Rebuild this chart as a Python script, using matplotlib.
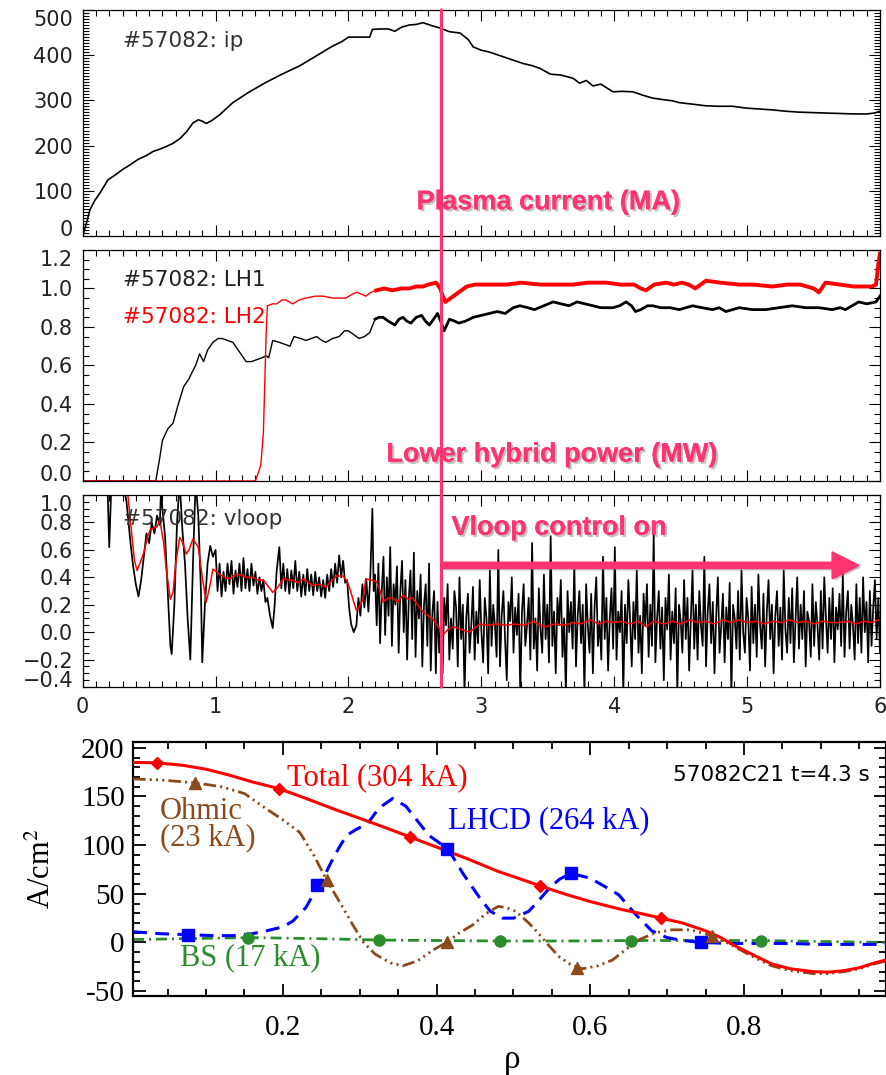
import numpy as np
import matplotlib
matplotlib.use("Agg")
import matplotlib.pyplot as plt
from matplotlib.ticker import MultipleLocator, FuncFormatter
from matplotlib.patches import ConnectionPatch
import matplotlib.patheffects as pe

# ---- shot #57082 time traces (t [s], value) ----
ip = [(0, 0), (0.03, 30), (0.055, 58), (0.09, 78), (0.13, 95), (0.19, 124), (0.25, 136), (0.3, 147),
      (0.36, 158), (0.42, 170), (0.48, 178), (0.53, 187), (0.58, 192), (0.63, 198), (0.68, 205),
      (0.73, 215), (0.78, 230), (0.83, 250), (0.87, 257), (0.9, 254), (0.93, 249), (0.97, 255),
      (1.03, 268), (1.13, 295), (1.25, 318), (1.38, 340), (1.5, 358), (1.63, 376), (1.75, 397),
      (1.88, 420), (1.95, 430), (2.0, 440), (2.08, 440), (2.16, 440), (2.18, 457), (2.24, 458),
      (2.3, 458), (2.35, 453), (2.4, 462), (2.46, 467), (2.51, 468), (2.56, 472), (2.62, 466),
      (2.69, 460), (2.76, 452), (2.84, 449), (2.9, 435), (2.94, 418), (3.0, 411), (3.06, 407),
      (3.12, 401), (3.19, 394), (3.25, 388), (3.31, 382), (3.38, 377), (3.44, 371), (3.52, 358),
      (3.6, 356), (3.69, 349), (3.74, 338), (3.79, 344), (3.84, 332), (3.9, 336), (3.99, 319),
      (4.06, 320), (4.14, 319), (4.22, 311), (4.29, 305), (4.36, 302), (4.44, 299), (4.49, 295),
      (4.58, 292), (4.69, 288), (4.79, 287), (4.89, 287), (4.99, 283), (5.09, 281), (5.19, 279),
      (5.29, 276), (5.39, 274), (5.49, 273), (5.59, 272), (5.7, 271), (5.8, 270), (5.9, 270),
      (5.96, 272), (6.0, 276)]

lh1 = [(0, 0), (0.55, 0), (0.58, 0.12), (0.6, 0.21), (0.64, 0.27), (0.68, 0.3), (0.72, 0.4),
       (0.76, 0.49), (0.8, 0.53), (0.82, 0.56), (0.85, 0.6), (0.88, 0.66), (0.91, 0.62), (0.94, 0.68),
       (0.98, 0.72), (1.02, 0.74), (1.05, 0.74), (1.09, 0.73), (1.13, 0.72), (1.18, 0.67), (1.23, 0.62),
       (1.27, 0.62), (1.31, 0.63), (1.35, 0.64), (1.38, 0.65), (1.4, 0.64), (1.43, 0.73), (1.48, 0.72),
       (1.52, 0.71), (1.56, 0.70), (1.59, 0.75), (1.64, 0.74), (1.68, 0.73), (1.72, 0.74), (1.76, 0.75),
       (1.8, 0.73), (1.83, 0.72), (1.88, 0.74), (1.93, 0.75), (1.97, 0.78), (2.0, 0.78), (2.04, 0.76),
       (2.08, 0.74), (2.12, 0.75), (2.16, 0.77), (2.2, 0.84), (2.23, 0.85), (2.26, 0.85), (2.3, 0.83),
       (2.35, 0.81), (2.38, 0.84), (2.41, 0.85), (2.44, 0.83), (2.47, 0.82), (2.51, 0.85), (2.55, 0.86),
       (2.58, 0.83), (2.61, 0.81), (2.64, 0.84), (2.67, 0.87), (2.7, 0.82), (2.72, 0.78), (2.76, 0.84),
       (2.8, 0.83), (2.83, 0.82), (2.88, 0.83), (2.94, 0.85), (3.0, 0.86), (3.06, 0.87), (3.12, 0.88),
       (3.18, 0.87), (3.24, 0.9), (3.29, 0.91), (3.35, 0.9), (3.4, 0.89), (3.47, 0.91), (3.54, 0.93),
       (3.6, 0.92), (3.66, 0.91), (3.72, 0.93), (3.78, 0.92), (3.84, 0.91), (3.9, 0.9), (3.99, 0.9),
       (4.04, 0.91), (4.09, 0.93), (4.13, 0.91), (4.16, 0.88), (4.2, 0.89), (4.25, 0.91), (4.29, 0.91),
       (4.35, 0.9), (4.42, 0.9), (4.49, 0.89), (4.54, 0.9), (4.59, 0.91), (4.66, 0.9), (4.74, 0.89),
       (4.79, 0.9), (4.84, 0.88), (4.89, 0.89), (4.94, 0.9), (5.04, 0.89), (5.14, 0.89), (5.24, 0.9),
       (5.34, 0.91), (5.44, 0.9), (5.54, 0.9), (5.64, 0.89), (5.7, 0.9), (5.74, 0.89), (5.79, 0.91),
       (5.84, 0.93), (5.9, 0.92), (5.97, 0.93), (6.0, 0.96)]

lh2 = [(0, 0), (1.3, 0), (1.34, 0.08), (1.36, 0.25), (1.37, 0.5), (1.38, 0.75), (1.39, 0.91),
       (1.43, 0.92), (1.46, 0.92), (1.5, 0.94), (1.53, 0.94), (1.58, 0.92), (1.63, 0.94), (1.68, 0.95),
       (1.75, 0.96), (1.81, 0.96), (1.88, 0.95), (1.93, 0.95), (1.98, 0.95), (2.03, 0.97), (2.06, 0.98),
       (2.1, 0.97), (2.13, 0.96), (2.17, 0.98), (2.21, 0.99), (2.27, 1.0), (2.33, 0.99), (2.4, 1.0),
       (2.46, 1.0), (2.51, 1.01), (2.56, 1.01), (2.6, 1.02), (2.66, 1.03), (2.69, 1.0), (2.71, 0.96),
       (2.73, 0.93), (2.77, 0.95), (2.81, 0.97), (2.85, 0.99), (2.89, 1.01), (2.95, 1.02), (3.01, 1.02),
       (3.1, 1.02), (3.19, 1.02), (3.3, 1.03), (3.44, 1.02), (3.55, 1.02), (3.69, 1.02), (3.8, 1.03),
       (3.94, 1.03), (4.05, 1.02), (4.15, 1.02), (4.2, 1.0), (4.24, 0.99), (4.3, 1.02), (4.39, 1.03),
       (4.45, 1.02), (4.51, 1.03), (4.56, 1.02), (4.61, 1.0), (4.65, 1.02), (4.69, 1.04), (4.8, 1.03),
       (4.94, 1.02), (5.05, 1.02), (5.19, 1.01), (5.3, 1.02), (5.4, 1.02), (5.5, 1.0), (5.54, 0.98),
       (5.59, 1.03), (5.7, 1.02), (5.8, 1.01), (5.94, 1.01), (5.97, 1.02), (5.99, 1.14), (6.0, 1.18)]

vloop_early = [(0.18, 1.3), (0.2, 0.62), (0.22, 1.2), (0.24, 1.3), (0.27, 1.2), (0.3, 1.1), (0.33, 0.95),
               (0.36, 0.65), (0.38, 0.48), (0.4, 0.35), (0.42, 0.26), (0.44, 0.38), (0.46, 0.55),
               (0.48, 0.72), (0.5, 0.65), (0.52, 0.8), (0.54, 0.72), (0.56, 0.85), (0.58, 0.78),
               (0.59, 1.05), (0.6, 0.9), (0.62, 0.7), (0.64, 0.3), (0.66, -0.1), (0.67, -0.16),
               (0.69, 0.2), (0.71, 0.8), (0.73, 1.1), (0.75, 0.75), (0.77, 0.5), (0.79, 0.1),
               (0.81, -0.2), (0.83, 0.5), (0.85, 1.1), (0.87, 0.85), (0.89, 0.3), (0.9, -0.22),
               (0.92, 0.2), (0.94, 0.5), (0.96, 0.63), (0.98, 0.55), (1.0, 0.6), (1.015, 0.3),
               (1.03, 0.5), (1.045, 0.26), (1.06, 0.44), (1.075, 0.3), (1.09, 0.5), (1.105, 0.35),
               (1.12, 0.52), (1.135, 0.28), (1.15, 0.45), (1.165, 0.33), (1.18, 0.5), (1.195, 0.3),
               (1.21, 0.54), (1.225, 0.32), (1.24, 0.46), (1.255, 0.3), (1.27, 0.5), (1.285, 0.34),
               (1.3, 0.44), (1.315, 0.28), (1.33, 0.4), (1.345, 0.3), (1.36, 0.38), (1.375, 0.22),
               (1.39, 0.25), (1.41, 0.12), (1.43, 0.03), (1.445, 0.2), (1.46, 0.45), (1.48, 0.62),
               (1.495, 0.32), (1.51, 0.5), (1.525, 0.3), (1.54, 0.46), (1.555, 0.28), (1.57, 0.45),
               (1.585, 0.32), (1.6, 0.52), (1.615, 0.3), (1.63, 0.44), (1.645, 0.26), (1.66, 0.42),
               (1.675, 0.27), (1.69, 0.46), (1.705, 0.3), (1.72, 0.42), (1.735, 0.27), (1.75, 0.44),
               (1.765, 0.3), (1.78, 0.4), (1.795, 0.26), (1.81, 0.38), (1.825, 0.25), (1.84, 0.42),
               (1.855, 0.3), (1.87, 0.46), (1.885, 0.33), (1.9, 0.5), (1.915, 0.36), (1.93, 0.56),
               (1.945, 0.4), (1.96, 0.52), (1.975, 0.36), (1.99, 0.38), (2.005, 0.18), (2.02, 0.06),
               (2.04, 0.0), (2.06, 0.05), (2.075, 0.25), (2.09, 0.12), (2.105, 0.35), (2.12, 0.18),
               (2.135, 0.38), (2.15, 0.15), (2.165, 0.42), (2.18, 0.9), (2.19, 0.3)]

# raw vloop, evenly sampled from 2.2 s to 6.0 s
vloop_noise = [0.42, 0.05, 0.5, -0.08, 0.3, 0.55, -0.02, 0.4, 0.12, 0.62, -0.1, 0.35, 0.2, 0.48,
               -0.15, 0.3, 0.52, 0.0, 0.38, -0.2, 0.25, 0.45, -0.05, 0.58, -0.18, 0.3, 0.1, 0.42,
               -0.25, 0.2, 0.35, -0.1, 0.5, -0.28, 0.15, 0.3, -0.3, 0.22, -0.15, 0.05,
               -0.3, 0.25, 0.05, 0.35, -0.2, 0.1, -0.12, 0.3, 0.18, -0.25, 0.4, -0.05, 0.2, -0.45,
               0.1, 0.28, -0.15, 0.05, 0.33, -0.2,
               0.15, -0.08, 0.38, 0.0, -0.22, 0.25, 0.1, -0.3, 0.45, -0.1, 0.2, 0.05, -0.18, 0.6,
               -0.25, 0.12, 0.3, -0.05, -0.35, 0.22,
               0.08, 0.4, -0.15, 0.18, -0.02, 0.28, -0.45, 0.15, 0.35, -0.1, 0.05, 0.25, -0.2, 0.65,
               -0.12, 0.1, -0.28, 0.32, 0.02, -0.15,
               0.42, -0.05, 0.2, -0.22, 0.7, -0.1, 0.15, -0.3, 0.25, 0.05, 0.38, -0.18, 0.1, -0.45,
               0.3, 0.0, 0.22, -0.12, 0.5, -0.25,
               0.12, 0.3, -0.08, 0.2, -0.45, 0.35, 0.05, -0.15, 0.28, -0.3, 0.18, 0.4, -0.1, 0.08,
               -0.2, 0.55, -0.05, 0.25, -0.28, 0.1,
               0.32, -0.12, 0.62, -0.2, 0.15, 0.0, 0.3, -0.45, 0.2, -0.08, 0.38, 0.1, -0.25, 0.22,
               -0.05, 0.45, -0.15, 0.12, -0.3, 0.28,
               0.05, 0.35, -0.18, 0.2, -0.1, 0.72, -0.22, 0.1, 0.3, -0.12, 0.18, -0.35, 0.25, 0.02,
               0.42, -0.2, 0.15, -0.08, 0.32, -0.45,
               0.2, 0.08, -0.15, 0.38, -0.05, 0.25, -0.28, 0.1, 0.45, -0.12, 0.2, -0.2, 0.3, 0.05,
               -0.1, 0.55, -0.25, 0.15, 0.35, -0.08,
               0.22, -0.3, 0.12, 0.4, -0.15, 0.05, 0.28, -0.22, 0.18, -0.05, 0.36, -0.45, 0.2, 0.1,
               -0.12, 0.3, -0.2, 0.45, 0.0, -0.15,
               0.25, 0.1, -0.28, 0.33, -0.08, 0.2, -0.18, 0.42, 0.05, -0.12, 0.28, -0.25, 0.15, 0.38,
               -0.05, 0.2, -0.3, 0.12, 0.3, -0.1,
               0.18, -0.2, 0.45, 0.02, -0.15, 0.25, -0.08, 0.32, -0.22, 0.1, 0.4, -0.12, 0.2, -0.05,
               0.3, -0.25, 0.15, 0.08, -0.18, 0.35,
               -0.1, 0.22, 0.05, -0.2, 0.3, -0.12, 0.4, 0.1, -0.15, 0.25, -0.05, 0.32, -0.22, 0.18,
               0.02, 0.28, -0.1, 0.42, -0.18, 0.15,
               0.3, -0.12, 0.2, 0.05, -0.2, 0.35, -0.08, 0.25, -0.15, 0.4, 0.0, 0.22, -0.22, 0.3,
               -0.1, 0.18, 0.38, -0.05, 0.25, -0.15]

vloop_smooth = [(0.33, 1.1), (0.36, 0.8), (0.39, 0.52), (0.41, 0.45), (0.43, 0.5), (0.46, 0.58),
                (0.49, 0.7), (0.51, 0.75), (0.54, 0.76), (0.56, 0.77), (0.58, 0.82), (0.61, 0.65),
                (0.63, 0.45), (0.66, 0.24), (0.68, 0.29), (0.7, 0.5), (0.73, 0.69), (0.75, 0.66),
                (0.78, 0.57), (0.8, 0.6), (0.83, 0.68), (0.87, 0.62), (0.9, 0.4), (0.93, 0.22),
                (0.96, 0.35), (0.98, 0.46), (1.01, 0.44), (1.03, 0.42), (1.07, 0.4), (1.11, 0.39),
                (1.15, 0.42), (1.18, 0.42), (1.23, 0.4), (1.28, 0.4), (1.32, 0.38), (1.36, 0.38),
                (1.4, 0.33), (1.43, 0.29), (1.47, 0.33), (1.51, 0.39), (1.55, 0.38), (1.58, 0.38),
                (1.62, 0.36), (1.66, 0.39), (1.7, 0.36), (1.73, 0.34), (1.78, 0.35), (1.83, 0.33),
                (1.87, 0.37), (1.91, 0.41), (1.96, 0.41), (1.99, 0.37), (2.01, 0.32), (2.04, 0.22),
                (2.06, 0.16), (2.09, 0.2), (2.11, 0.24), (2.13, 0.39), (2.17, 0.38), (2.21, 0.37),
                (2.24, 0.3), (2.26, 0.22), (2.3, 0.25), (2.33, 0.25), (2.37, 0.22), (2.41, 0.27),
                (2.45, 0.24), (2.48, 0.25), (2.52, 0.2), (2.56, 0.15), (2.6, 0.12), (2.63, 0.1),
                (2.67, 0.05), (2.71, -0.02), (2.75, 0.02), (2.79, 0.04), (2.85, 0.02), (2.91, 0.0),
                (2.95, 0.03), (2.99, 0.06), (3.05, 0.05), (3.12, 0.06), (3.19, 0.05), (3.25, 0.06),
                (3.32, 0.05), (3.39, 0.08), (3.44, 0.05), (3.49, 0.04), (3.55, 0.06), (3.62, 0.05),
                (3.69, 0.07), (3.75, 0.06), (3.82, 0.09), (3.88, 0.06), (3.94, 0.08), (3.99, 0.07),
                (4.05, 0.08), (4.12, 0.06), (4.18, 0.08), (4.24, 0.04), (4.3, 0.08), (4.37, 0.06),
                (4.44, 0.08), (4.5, 0.06), (4.57, 0.09), (4.63, 0.07), (4.69, 0.08), (4.75, 0.06),
                (4.82, 0.09), (4.88, 0.07), (4.94, 0.09), (5.0, 0.07), (5.07, 0.08), (5.13, 0.06),
                (5.19, 0.08), (5.26, 0.07), (5.32, 0.09), (5.38, 0.07), (5.44, 0.08), (5.5, 0.06),
                (5.57, 0.08), (5.63, 0.07), (5.69, 0.07), (5.76, 0.08), (5.82, 0.06), (5.88, 0.08),
                (5.94, 0.07), (5.99, 0.09)]

t_ctrl = 2.7  # Vloop control switched on

# ---- current density profiles, 57082C21 t=4.3 s (rho, A/cm^2) ----
j_total = [(0.005, 185), (0.036, 184.6), (0.07, 182), (0.1, 178), (0.13, 172), (0.16, 165), (0.195, 158),
           (0.23, 148), (0.27, 136), (0.309, 125), (0.34, 116), (0.365, 108.5), (0.4, 98), (0.44, 86),
           (0.48, 73), (0.51, 65), (0.535, 58), (0.57, 49), (0.6, 42), (0.64, 34), (0.67, 29),
           (0.692, 25), (0.72, 20), (0.75, 12), (0.77, 5), (0.785, -2), (0.81, -12), (0.836, -22),
           (0.86, -27), (0.89, -30), (0.91, -30.5), (0.93, -29), (0.95, -26), (0.97, -21), (0.985, -18)]
j_lhcd = [(0.005, 11), (0.04, 9), (0.077, 8), (0.11, 7), (0.135, 7), (0.16, 9), (0.179, 12), (0.2, 16),
          (0.213, 22), (0.23, 36), (0.245, 57), (0.255, 70), (0.265, 86), (0.275, 100), (0.283, 110),
          (0.295, 116), (0.31, 122), (0.325, 138), (0.343, 148), (0.36, 140), (0.375, 125), (0.39, 110),
          (0.415, 96), (0.435, 70), (0.456, 46), (0.47, 32), (0.486, 25), (0.5, 25), (0.52, 32),
          (0.535, 45), (0.547, 56), (0.56, 65), (0.575, 71), (0.6, 66), (0.62, 57), (0.637, 49),
          (0.66, 28), (0.68, 12), (0.7, 5), (0.72, 2), (0.745, 0), (0.78, -1), (0.82, -1), (0.86, -1),
          (0.9, -2), (0.94, -2), (0.985, -2)]
j_ohmic = [(0.005, 168), (0.04, 167), (0.086, 164), (0.12, 160), (0.15, 153), (0.179, 137), (0.2, 126),
           (0.222, 113), (0.24, 90), (0.257, 64), (0.275, 40), (0.291, 18), (0.305, 0), (0.32, -12),
           (0.34, -21), (0.356, -24), (0.375, -19), (0.395, -8), (0.413, 0), (0.43, 10), (0.447, 18),
           (0.465, 30), (0.48, 37), (0.49, 36), (0.503, 32), (0.52, 20), (0.534, 8), (0.547, -4),
           (0.56, -15), (0.575, -23), (0.59, -27), (0.61, -24), (0.629, -18), (0.645, -8), (0.664, 3),
           (0.685, 10), (0.706, 13), (0.73, 13), (0.758, 7), (0.785, -3), (0.81, -14), (0.836, -24),
           (0.86, -29), (0.89, -32), (0.91, -32), (0.93, -30), (0.95, -27), (0.97, -22), (0.985, -19)]
j_bs = [(0.005, 3), (0.08, 4), (0.155, 5), (0.24, 4), (0.325, 2.5), (0.4, 2), (0.482, 1.5), (0.57, 1.5),
        (0.653, 2), (0.74, 2), (0.822, 2), (0.9, 1), (0.985, 0)]

mk_total = [(0.036, 184.6), (0.195, 158), (0.365, 108.5), (0.535, 58), (0.692, 25)]
mk_lhcd = [(0.077, 8), (0.245, 59), (0.413, 96), (0.575, 71), (0.744, 0)]
mk_ohmic = [(0.086, 164), (0.257, 64), (0.413, 0), (0.583, -26), (0.758, 7)]
mk_bs = [(0.155, 5), (0.325, 2.5), (0.482, 1.5), (0.653, 2), (0.822, 2)]

mag = '#ff336f'
brown = '#8b4a1c'
green = '#2a8c2a'
shadow = [pe.withSimplePatchShadow(offset=(1.5, -1.5), shadow_rgbFace='#777777', alpha=0.45), pe.Normal()]

plt.rcParams['font.family'] = ['DejaVu Sans']
plt.rcParams['lines.scale_dashes'] = False
plt.rcParams['mathtext.fontset'] = 'stix'

fig = plt.figure(figsize=(8.87, 10.75), dpi=100)
ax1 = fig.add_axes([0.0932, 0.7805, 0.8989, 0.2102])
ax2 = fig.add_axes([0.0932, 0.5526, 0.8989, 0.2149])
ax3 = fig.add_axes([0.0932, 0.3609, 0.8989, 0.1786])
ax4 = fig.add_axes([0.15, 0.0735, 0.849, 0.2363])


def xy(pts):
    a = np.array(pts, dtype=float)
    return a[:, 0], a[:, 1]


one_dec = FuncFormatter(lambda v, p: ('%.1f' % v).replace('-', '\u2212'))

for ax in (ax1, ax2, ax3):
    ax.set_xlim(0, 6)
    ax.xaxis.set_major_locator(MultipleLocator(1))
    ax.xaxis.set_minor_locator(MultipleLocator(0.1))
    ax.tick_params(which='both', direction='in', top=True, right=True, labelsize=15,
                   labelcolor='#222222', width=0.8, pad=7)
    ax.tick_params(which='major', length=8)
    ax.tick_params(which='minor', length=4)
    for s in ax.spines.values():
        s.set_linewidth(0.9)
    if ax is not ax3:
        ax.tick_params(labelbottom=False)

# plasma current
t, v = xy(ip)
ax1.plot(t, v, color='black', lw=1.2)
ax1.set_ylim(0, 500)
ax1.yaxis.set_major_locator(MultipleLocator(100))
ax1.yaxis.set_minor_locator(MultipleLocator(100 / 15))
ax1.text(0.305, 419, '#57082: ip', fontsize=15.5, color='#333333')
ax1.text(2.513, 59, 'Plasma current (MA)', fontsize=19.5, fontweight='bold', color=mag,
         family='Liberation Sans', path_effects=shadow)

# LH power
t, v = xy(lh1)
ax2.plot(t, v, color='black', lw=1.0)
ax2.plot(t[t >= 2.2], v[t >= 2.2], color='black', lw=2.0)
t, v = xy(lh2)
ax2.plot(t, v, color='red', lw=1.0)
ax2.plot(t[t >= 2.2], v[t >= 2.2], color='red', lw=2.8)
ax2.set_ylim(0, 1.2)
ax2.yaxis.set_major_locator(MultipleLocator(0.2))
ax2.yaxis.set_minor_locator(MultipleLocator(0.05))
ax2.yaxis.set_major_formatter(one_dec)
ax2.text(0.305, 1.015, '#57082: LH1', fontsize=15.5, color='#222222')
ax2.text(0.305, 0.823, '#57082: LH2', fontsize=15.5, color='red')
ax2.text(2.286, 0.10, 'Lower hybrid power (MW)', fontsize=19.5, fontweight='bold', color=mag,
         family='Liberation Sans', path_effects=shadow)

# loop voltage
te, ve = xy(vloop_early)
tn = np.linspace(2.2, 6.0, len(vloop_noise))
ax3.plot(np.concatenate([te, tn]), np.concatenate([ve, vloop_noise]), color='black', lw=1.25)
t, v = xy(vloop_smooth)
ax3.plot(t, v, color='red', lw=1.1)
ax3.set_ylim(-0.4, 1.0)
ax3.yaxis.set_major_locator(MultipleLocator(0.2))
ax3.yaxis.set_minor_locator(MultipleLocator(0.05))
ax3.yaxis.set_major_formatter(one_dec)
ax3.text(0.305, 0.78, '#57082: vloop', fontsize=15.5, color='#333333')
ax3.text(2.775, 0.71, 'Vloop control on', fontsize=19.5, fontweight='bold', color=mag,
         family='Liberation Sans', path_effects=shadow)
arr = ax3.annotate('', xy=(5.84, 0.487), xytext=(t_ctrl, 0.487),
                   arrowprops=dict(width=4.3, headwidth=19, headlength=19, color=mag, shrink=0))
arr.arrow_patch.set_path_effects(shadow)

# control-on marker across the three time panels
con = ConnectionPatch(xyA=(t_ctrl, 500), coordsA=ax1.transData,
                      xyB=(t_ctrl, -0.4), coordsB=ax3.transData, color=mag, lw=2.3)
fig.add_artist(con)

# ---- profiles ----
serif = 'Liberation Serif'
r, j = xy(j_total)
ax4.plot(r, j, color='red', lw=2.2, zorder=4)
r, j = xy(mk_total)
ax4.plot(r, j, 'D', color='red', ms=6.5, zorder=5)
r, j = xy(j_lhcd)
ax4.plot(r, j, color='blue', lw=2.2, dashes=(10, 6), zorder=3)
r, j = xy(mk_lhcd)
ax4.plot(r, j, 's', color='blue', ms=8, zorder=5)
r, j = xy(j_ohmic)
ax4.plot(r, j, color=brown, lw=2.0, dashes=(9, 3, 1.5, 3, 1.5, 3, 1.5, 3), zorder=3)
r, j = xy(mk_ohmic)
ax4.plot(r, j, '^', color=brown, ms=8, zorder=5)
r, j = xy(j_bs)
ax4.plot(r, j, color=green, lw=2.0, dashes=(8, 3.5, 1.5, 3.5), zorder=2)
r, j = xy(mk_bs)
ax4.plot(r, j, 'o', color=green, ms=8, zorder=5)

ax4.set_xlim(0.005, 0.985)
ax4.set_ylim(-55, 206)
ax4.set_xticks([0.2, 0.4, 0.6, 0.8])
ax4.set_xticklabels(['0.2', '0.4', '0.6', '0.8'], family=serif, fontsize=21)
ax4.set_yticks([-50, 0, 50, 100, 150, 200])
ax4.set_yticklabels(['-50', '0', '50', '100', '150', '200'], family=serif, fontsize=21)
ax4.xaxis.set_minor_locator(MultipleLocator(0.05))
ax4.yaxis.set_minor_locator(MultipleLocator(10))
ax4.tick_params(which='both', direction='in', top=True, right=True, width=1.3)
ax4.tick_params(which='major', length=9)
ax4.tick_params(which='minor', length=5)
ax4.tick_params(axis='x', pad=14)
ax4.tick_params(axis='y', pad=6)
for s in ax4.spines.values():
    s.set_linewidth(1.6)

ax4.set_ylabel('A/cm$^2$', family=serif, fontsize=22)
ax4.yaxis.set_label_coords(-0.12, 0.5)
ax4.yaxis.label.set_va('center')
ax4.set_xlabel('ρ', family=serif, fontsize=24)
ax4.xaxis.set_label_coords(0.504, -0.25)
ax4.xaxis.label.set_va('center')

ax4.text(0.205, 162, 'Total (304 kA)', color='red', family=serif, fontsize=22)
ax4.text(0.04, 127, 'Ohmic', color=brown, family=serif, fontsize=22)
ax4.text(0.04, 100, '(23 kA)', color=brown, family=serif, fontsize=22)
ax4.text(0.415, 117, 'LHCD (264 kA)', color='blue', family=serif, fontsize=22)
ax4.text(0.066, -23.6, 'BS (17 kA)', color=green, family=serif, fontsize=22)
ax4.text(0.964, 165.6, '57082C21 t=4.3 s', color='black', fontsize=15.5, ha='right')

# keep the end labels of the stacked panels inside their own frame
fig.canvas.draw()
for ax in (ax1, ax2, ax3):
    lo, hi = ax.get_ylim()
    for tk in ax.yaxis.get_major_ticks():
        loc = tk.get_loc()
        if abs(loc - lo) < 1e-6:
            tk.label1.set_va('baseline')
        elif abs(loc - hi) < 1e-6:
            tk.label1.set_va('top')

fig.savefig('out.png', dpi=100, facecolor='white')
